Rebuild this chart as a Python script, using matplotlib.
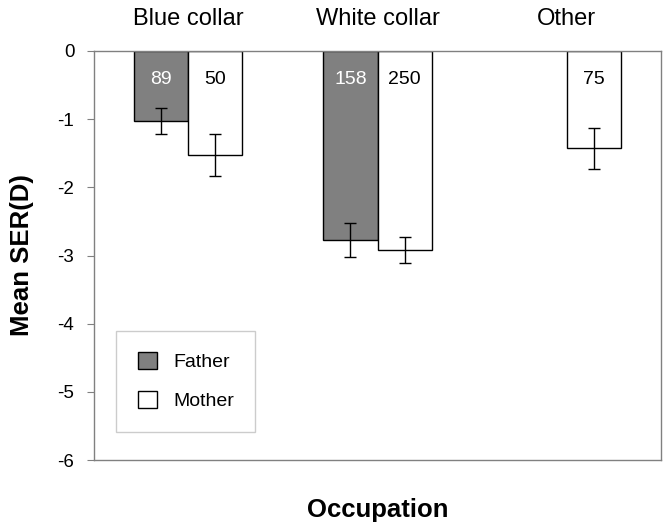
import numpy as np
import matplotlib.pyplot as plt

plt.rcParams['font.family'] = ['Liberation Sans', 'DejaVu Sans']
plt.rcParams['axes.unicode_minus'] = False

# Data
occupations = ['Blue collar', 'White collar', 'Other']
father_mean = [-1.03, -2.77, np.nan]
father_se = [0.195, 0.245, np.nan]
father_n = ['89', '158', '']
mother_mean = [-1.53, -2.92, -1.43]
mother_se = [0.31, 0.19, 0.30]
mother_n = ['50', '250', '75']

fig = plt.figure(figsize=(6.7, 5.29), dpi=100)
ax = fig.add_axes([0.140, 0.130, 0.847, 0.774])

x = np.arange(len(occupations)) + 0.5
w = 0.286

ax.bar(x - w / 2, father_mean, w, color='#808080', edgecolor='black', linewidth=1,
       label='Father', zorder=2)
ax.bar(x + w / 2, mother_mean, w, color='white', edgecolor='black', linewidth=1,
       label='Mother', zorder=2)
ax.errorbar(x - w / 2, father_mean, yerr=father_se, fmt='none', ecolor='black',
            elinewidth=1, capsize=4, capthick=1, zorder=3)
ax.errorbar(x + w / 2, mother_mean, yerr=mother_se, fmt='none', ecolor='black',
            elinewidth=1, capsize=4, capthick=1, zorder=3)

# sample sizes inside the bars, occupation names above the plot
for i in range(len(occupations)):
    if father_n[i]:
        ax.text(x[i] - w / 2, -0.42, father_n[i], ha='center', va='center',
                fontsize=14, color='white', zorder=4)
    ax.text(x[i] + w / 2, -0.42, mother_n[i], ha='center', va='center',
            fontsize=14, color='black', zorder=4)
    ax.text(x[i], 1.077, occupations[i], ha='center', va='center', fontsize=17,
            transform=ax.get_xaxis_transform(), zorder=4)

ax.set_xlim(0, 3)
ax.set_ylim(-6, 0)
ax.set_yticks(range(-6, 1))
ax.set_xticks([])
ax.tick_params(axis='y', labelsize=13.5, direction='out', length=5, pad=9,
               color='#808080')
for s in ax.spines.values():
    s.set_color('#808080')
    s.set_linewidth(1)

ax.set_ylabel('Mean SER(D)', fontsize=18.5, fontweight='bold', labelpad=17)
ax.set_xlabel('Occupation', fontsize=18.5, fontweight='bold', labelpad=27)

leg = ax.legend(loc='lower left', bbox_to_anchor=(0.04, 0.07), fontsize=14,
                frameon=True, fancybox=False, edgecolor='#c0c0c0',
                handlelength=1.0, handleheight=1.0, borderpad=1.1,
                labelspacing=1.0, handletextpad=0.8, borderaxespad=0)
leg.get_frame().set_linewidth(1)

fig.savefig('out.png', dpi=100)
